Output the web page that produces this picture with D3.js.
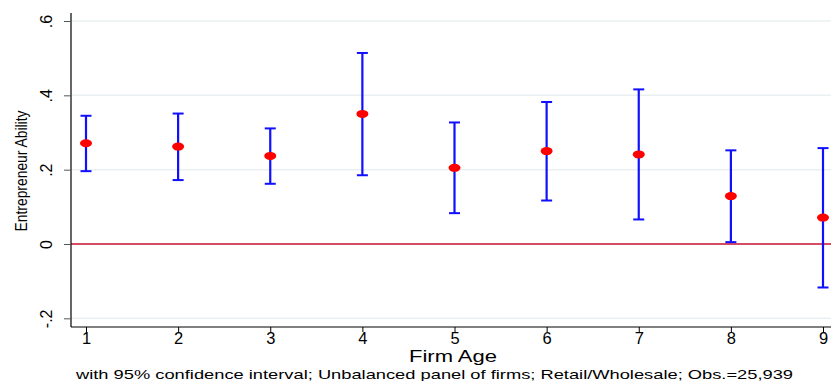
<!DOCTYPE html>
<html><head><meta charset="utf-8">
<script src="https://cdn.jsdelivr.net/npm/d3@7"></script>
<style>body{margin:0;background:#fff}svg{display:block}text{font-family:"Liberation Sans",Arial,sans-serif;fill:#000}</style>
</head><body><svg id="c" width="831" height="381"></svg>
<script>
const ages = [1,2,3,4,5,6,7,8,9];
const estimate = [0.271,0.262,0.237,0.350,0.205,0.250,0.241,0.129,0.071];
const ciLow  = [0.196,0.172,0.162,0.185,0.083,0.117,0.066,0.005,-0.117];
const ciHigh = [0.345,0.351,0.311,0.514,0.327,0.382,0.416,0.252,0.258];
const yTicks = [-0.2,0,0.2,0.4,0.6];
const yTickLabels = ["-.2","0",".2",".4",".6"];
const xTicks = [1,2,3,4,5,6,7,8,9];
const xTitle = "Firm Age";
const yTitle = "Entrepreneur Ability";
const note = "with 95% confidence interval; Unbalanced panel of firms; Retail/Wholesale; Obs.=25,939";

const svg = d3.select("#c");
const mLeft = 71, mRight = 831, mTop = 13, mBottom = 327;
const x = d3.scaleLinear().domain([1,9]).range([86,823]);
const y = d3.scaleLinear().domain([0,0.6]).range([244,21]);

// gridlines
svg.append("g").selectAll("line").data(yTicks.filter(d=>d!==0)).join("line")
  .attr("x1",mLeft).attr("x2",mRight).attr("y1",d=>y(d)).attr("y2",d=>y(d))
  .attr("stroke","#eaf0f2").attr("stroke-width",1.5);

// zero line
svg.append("line").attr("x1",mLeft).attr("x2",mRight).attr("y1",y(0)).attr("y2",y(0))
  .attr("stroke","#c8102e").attr("stroke-width",1.3);

// y axis
const yAxis = d3.axisLeft(y).tickValues(yTicks).tickSize(7).tickFormat((d,i)=>yTickLabels[i]);
const gy = svg.append("g").attr("transform",`translate(${mLeft},0)`).call(yAxis);
gy.select(".domain").attr("d",`M0,${mTop}V${mBottom}`).attr("stroke","#000").attr("stroke-width",1.2);
gy.selectAll(".tick line").attr("stroke","#555");
gy.selectAll(".tick text").attr("font-size",16).attr("x",0).attr("y",0).attr("dy",null)
  .attr("text-anchor","middle").attr("transform","translate(-19,0) rotate(-90)");

// x axis
const xAxis = d3.axisBottom(x).tickValues(xTicks).tickSize(5).tickFormat(d3.format("d"));
const gx = svg.append("g").attr("transform",`translate(0,${mBottom})`).call(xAxis);
gx.select(".domain").attr("d",`M${mLeft},0H${mRight}`).attr("stroke","#000").attr("stroke-width",1.2);
gx.selectAll(".tick line").attr("stroke","#000");
gx.selectAll(".tick text").attr("font-size",16.5).attr("y",5).attr("dy","0.71em");

// titles
svg.append("text").attr("x",453).attr("y",362).attr("text-anchor","middle").attr("font-size",16)
  .attr("textLength",88).attr("lengthAdjust","spacingAndGlyphs").text(xTitle);
svg.append("text").attr("transform",`translate(27,171) rotate(-90)`).attr("text-anchor","middle")
  .attr("font-size",17).attr("textLength",121).attr("lengthAdjust","spacingAndGlyphs").text(yTitle);
svg.append("text").attr("x",76).attr("y",379).attr("font-size",13.5)
  .attr("textLength",717).attr("lengthAdjust","spacingAndGlyphs").text(note);

// error bars
const data = ages.map((a,i)=>({a, e:estimate[i], lo:ciLow[i], hi:ciHigh[i]}));
const g = svg.append("g");
g.selectAll("line.v").data(data).join("line").attr("class","v")
  .attr("x1",d=>x(d.a)).attr("x2",d=>x(d.a)).attr("y1",d=>y(d.lo)).attr("y2",d=>y(d.hi))
  .attr("stroke","#1010ff").attr("stroke-width",2.2);
g.selectAll("line.ch").data(data).join("line").attr("class","ch")
  .attr("x1",d=>x(d.a)-5.5).attr("x2",d=>x(d.a)+5.5).attr("y1",d=>y(d.hi)).attr("y2",d=>y(d.hi))
  .attr("stroke","#1010ff").attr("stroke-width",2);
g.selectAll("line.cl").data(data).join("line").attr("class","cl")
  .attr("x1",d=>x(d.a)-5.5).attr("x2",d=>x(d.a)+5.5).attr("y1",d=>y(d.lo)).attr("y2",d=>y(d.lo))
  .attr("stroke","#1010ff").attr("stroke-width",2);
g.selectAll("ellipse").data(data).join("ellipse")
  .attr("cx",d=>x(d.a)).attr("cy",d=>y(d.e)).attr("rx",6).attr("ry",4)
  .attr("fill","#ff0000");
</script></body></html>
